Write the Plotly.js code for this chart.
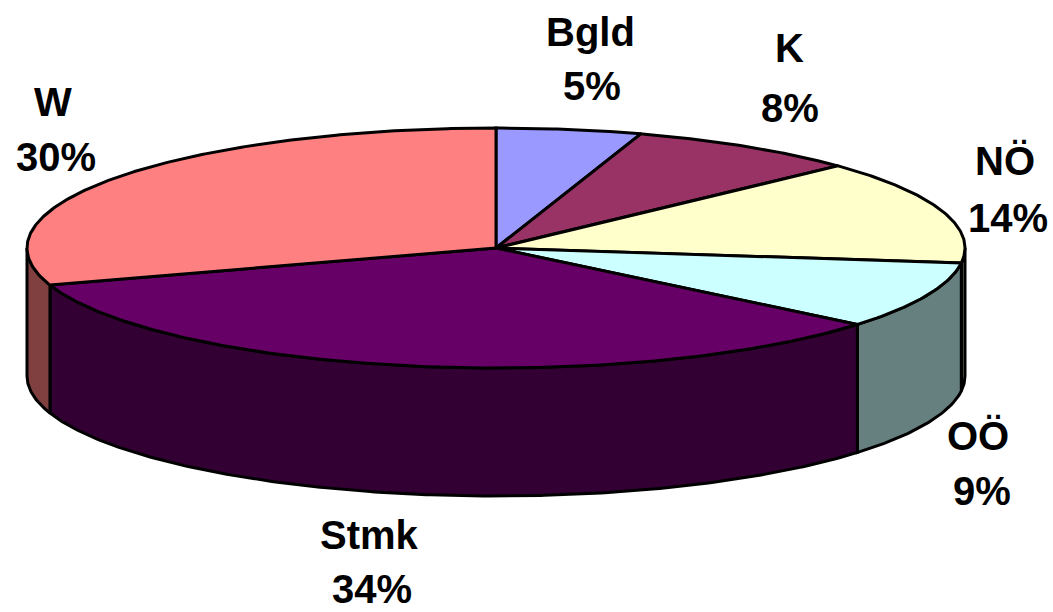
<!DOCTYPE html>
<html>
<head>
<meta charset="utf-8">
<script src="https://cdn.plot.ly/plotly-3.0.1.min.js"></script>
<style>
  html, body { margin: 0; padding: 0; background: #fff; }
  #chart { width: 1053px; height: 612px; }
</style>
</head>
<body>
<div id="chart"></div>
<script>
// Shares per federal state, clockwise from 12 o'clock
const regions = ['Bgld', 'K', 'NÖ', 'OÖ', 'Stmk', 'W'];
const shares = [5, 8, 14, 9, 34, 30];

// Face colours and darker colours for the rim
const topColors = ['#9999FF', '#993366', '#FFFFCC', '#CCFFFF', '#660066', '#FF8080'];
const sideColors = ['#4D4D80', '#4D1A33', '#808066', '#668080', '#330033', '#804040'];

// Label anchors: [name x, name y, percent x, percent y]
const labelPos = [
  [590, 32, 592, 86],
  [789, 48, 790, 108],
  [1005, 161, 1008, 218],
  [978, 436, 982, 491],
  [369, 535, 372, 589],
  [53, 102, 56, 157]
];

// Disc geometry
const cx = 496, cy = 248, rx = 469, ry = 120, depth = 128;
const total = shares.reduce((a, b) => a + b, 0);

function pt(deg, dy) {
  const t = deg * Math.PI / 180;
  return [cx + rx * Math.sin(t), cy - ry * Math.cos(t) + (dy || 0)];
}
function arc(a, b, dy) {
  const pts = [];
  const n = Math.max(2, Math.ceil(Math.abs(b - a) / 0.5));
  for (let i = 0; i <= n; i++) pts.push(pt(a + (b - a) * i / n, dy));
  return pts;
}

const outline = { color: '#000', width: 3 };
const sideTraces = [];
const topTraces = [];
let acc = 0;
regions.forEach((name, i) => {
  const a = acc / total * 360;
  acc += shares[i];
  const b = acc / total * 360;

  // front rim, visible between 90° and 270°
  const s = Math.max(a, 90), e = Math.min(b, 270);
  if (e > s) {
    const poly = arc(s, e, 0).concat(arc(e, s, depth));
    poly.push(poly[0]);
    sideTraces.push({
      type: 'scatter', mode: 'lines', fill: 'toself',
      x: poly.map(p => p[0]), y: poly.map(p => p[1]),
      fillcolor: sideColors[i], line: outline, hoverinfo: 'skip', showlegend: false
    });
  }

  // top wedge
  const wedge = [[cx, cy]].concat(arc(a, b, 0));
  wedge.push([cx, cy]);
  topTraces.push({
    type: 'scatter', mode: 'lines', fill: 'toself',
    x: wedge.map(p => p[0]), y: wedge.map(p => p[1]),
    fillcolor: topColors[i], line: outline, hoverinfo: 'text',
    text: name + ': ' + shares[i] + '%', showlegend: false
  });
});

const labelFont = { family: 'Liberation Sans, Arial, sans-serif', size: 40, color: '#000', weight: 'bold' };
const annotations = [];
regions.forEach((name, i) => {
  const p = labelPos[i];
  annotations.push({ x: p[0], y: p[1], text: name, showarrow: false, xanchor: 'center', yanchor: 'middle', font: labelFont });
  annotations.push({ x: p[2], y: p[3], text: Math.round(shares[i] / total * 100) + '%', showarrow: false, xanchor: 'center', yanchor: 'middle', font: labelFont });
});

const layout = {
  width: 1053, height: 612,
  margin: { l: 0, r: 0, t: 0, b: 0 },
  paper_bgcolor: '#fff', plot_bgcolor: '#fff',
  xaxis: { range: [0, 1053], visible: false, fixedrange: true },
  yaxis: { range: [612, 0], visible: false, fixedrange: true },
  annotations: annotations,
  showlegend: false
};

Plotly.newPlot('chart', sideTraces.concat(topTraces), layout, { displayModeBar: false, staticPlot: true });
</script>
</body>
</html>
